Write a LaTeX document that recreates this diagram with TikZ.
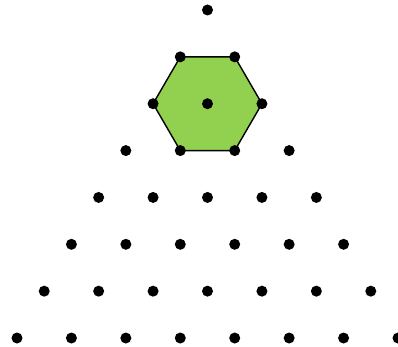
\documentclass[tikz,border=0pt]{standalone}
\begin{document}
\begin{tikzpicture}[x=1pt,y=-1pt,
  dot/.style={circle,fill=black,inner sep=0pt,minimum size=11pt},
  hexfill/.style={fill={rgb,255:red,146;green,208;blue,80},draw=black,line width=1.4pt,line join=miter}]
\useasboundingbox (0,0) rectangle (398,347);
\foreach \r in {0,...,7}{
  \foreach \k in {0,...,\r}{
    \coordinate (c-\r-\k) at ({207.5+(\k-\r/2)*54.43},{10+\r*46.86});
  }
}
\draw[hexfill] (c-1-0) -- (c-1-1) -- (c-2-2) -- (c-3-2) -- (c-3-1) -- (c-2-0) -- cycle;
\foreach \r in {0,...,7}{
  \foreach \k in {0,...,\r}{
    \node[dot] (p-\r-\k) at (c-\r-\k) {};
  }
}
\end{tikzpicture}
\end{document}
